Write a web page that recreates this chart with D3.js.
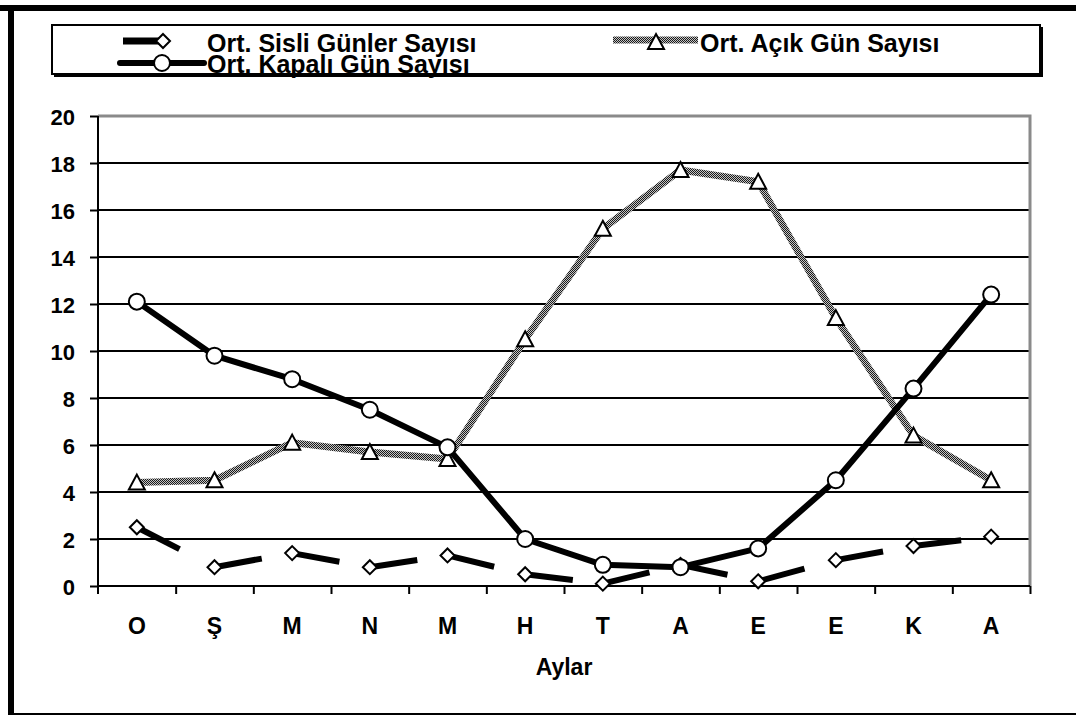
<!DOCTYPE html>
<html>
<head>
<meta charset="utf-8">
<script src="https://cdn.jsdelivr.net/npm/d3@7"></script>
<style>
  body { margin: 0; background: #fff; }
  svg text { font-family: "Liberation Sans", Arial, sans-serif; font-weight: bold; fill: #000; }
</style>
</head>
<body>
<svg id="chart" width="1076" height="715"></svg>
<script>
// data
var months = ["O", "Ş", "M", "N", "M", "H", "T", "A", "E", "E", "K", "A"];
var sisli = [2.5, 0.8, 1.4, 0.8, 1.3, 0.5, 0.1, 0.9, 0.2, 1.1, 1.7, 2.1];
var acik = [4.4, 4.5, 6.1, 5.7, 5.4, 10.5, 15.2, 17.7, 17.2, 11.4, 6.4, 4.5];
var kapali = [12.1, 9.8, 8.8, 7.5, 5.9, 2.0, 0.9, 0.8, 1.6, 4.5, 8.4, 12.4];
var yTicks = [0, 2, 4, 6, 8, 10, 12, 14, 16, 18, 20];
var legendNames = ["Ort. Sisli Günler Sayısı", "Ort. Açık Gün Sayısı", "Ort. Kapalı Gün Sayısı"];

var svg = d3.select("#chart");
var plotL = 98, plotR = 1030, plotT = 116, plotB = 586;

// dithered gray for the "açık" line
var defs = svg.append("defs");
var pat = defs.append("pattern").attr("id", "dither")
	.attr("width", 2).attr("height", 2).attr("patternUnits", "userSpaceOnUse");
pat.append("rect").attr("width", 2).attr("height", 2).attr("fill", "#c4c4c4");
pat.append("rect").attr("width", 1).attr("height", 1).attr("fill", "#1a1a1a");
pat.append("rect").attr("x", 1).attr("y", 1).attr("width", 1).attr("height", 1).attr("fill", "#1a1a1a");

// outer frame
svg.append("rect").attr("x", 0).attr("y", 5).attr("width", 1076).attr("height", 6).attr("fill", "#000");
svg.append("rect").attr("x", 8).attr("y", 5).attr("width", 6).attr("height", 710).attr("fill", "#000");
svg.append("rect").attr("x", 8).attr("y", 713).attr("width", 1068).attr("height", 2).attr("fill", "#000");

var idx = d3.range(months.length);
var x = d3.scaleBand().domain(idx).range([plotL, plotR]);
var xEdge = d3.scaleLinear().domain([0, months.length]).range([plotL, plotR]);
var y = d3.scaleLinear().domain([0, 20]).range([plotB, plotT]);
var cx = function(i) { return x(i) + x.bandwidth() / 2; };

// gridlines
svg.append("g").selectAll("line")
	.data(yTicks.filter(function(d) { return d > 0 && d < 20; }))
	.enter().append("line")
		.attr("x1", plotL).attr("x2", plotR)
		.attr("y1", function(d) { return y(d); }).attr("y2", function(d) { return y(d); })
		.attr("stroke", "#000").attr("stroke-width", 2);

// plot border top / right (gray)
svg.append("path")
	.attr("d", "M" + plotL + "," + y(20) + "H" + plotR + "V" + plotB)
	.attr("fill", "none").attr("stroke", "#8a8a8a").attr("stroke-width", 3);

// y axis
var yAxis = svg.append("g").attr("transform", "translate(" + plotL + ",0)")
	.call(d3.axisLeft(y).tickValues(yTicks).tickSize(8).tickPadding(15));
yAxis.select(".domain").attr("d", "M0," + y(20) + "V" + (plotB + 8)).attr("stroke-width", 2);
yAxis.selectAll(".tick line").attr("stroke-width", 2);
yAxis.selectAll("text").style("font-size", "22px").attr("dy", "0.37em");

// x axis (tick marks at the category edges)
var xAxis = svg.append("g").attr("transform", "translate(0," + plotB + ")")
	.call(d3.axisBottom(xEdge).tickValues(d3.range(1, months.length + 1)).tickSize(8).tickFormat(""));
xAxis.select(".domain").attr("d", "M" + plotL + ",0H" + plotR).attr("stroke-width", 2);
xAxis.selectAll(".tick line").attr("stroke-width", 2);

var xLabels = svg.append("g").attr("transform", "translate(0," + plotB + ")")
	.call(d3.axisBottom(x).tickSize(0).tickPadding(32).tickFormat(function(i) { return months[i]; }));
xLabels.select(".domain").remove();
xLabels.selectAll("text").style("font-size", "23px");

svg.append("text").attr("x", 564).attr("y", 675).attr("text-anchor", "middle")
	.style("font-size", "23px").text("Aylar");

// markers
function diamond(g, px, py) {
	g.append("path").attr("d", "M" + px + "," + (py - 7) + "l7,7l-7,7l-7,-7z")
		.attr("fill", "#fff").attr("stroke", "#000").attr("stroke-width", 2);
}
function triangle(g, px, py) {
	g.append("path").attr("d", "M" + px + "," + (py - 8) + "l8,15h-16z")
		.attr("fill", "#fff").attr("stroke", "#000").attr("stroke-width", 2);
}
function circle(g, px, py) {
	g.append("circle").attr("cx", px).attr("cy", py).attr("r", 8)
		.attr("fill", "#fff").attr("stroke", "#000").attr("stroke-width", 2);
}

// Sisli: long dash, restarting at each point
var gS = svg.append("g");
for (var i = 0; i < sisli.length - 1; i++) {
	gS.append("line")
		.attr("x1", cx(i)).attr("y1", y(sisli[i]))
		.attr("x2", cx(i + 1)).attr("y2", y(sisli[i + 1]))
		.attr("stroke", "#000").attr("stroke-width", 6)
		.attr("stroke-dasharray", "48,1000");
}
sisli.forEach(function(v, i) { diamond(gS, cx(i), y(v)); });

var line = d3.line().x(function(d, i) { return cx(i); }).y(function(d) { return y(d); });

// Açık
var gA = svg.append("g");
gA.append("path").datum(acik).attr("d", line)
	.attr("fill", "none").attr("stroke", "url(#dither)").attr("stroke-width", 7).attr("stroke-linejoin", "round");
acik.forEach(function(v, i) { triangle(gA, cx(i), y(v)); });

// Kapalı
var gK = svg.append("g");
gK.append("path").datum(kapali).attr("d", line)
	.attr("fill", "none").attr("stroke", "#000").attr("stroke-width", 6).attr("stroke-linejoin", "round");
kapali.forEach(function(v, i) { circle(gK, cx(i), y(v)); });

// legend
var lg = svg.append("g");
lg.append("rect").attr("x", 54).attr("y", 27).attr("width", 989).attr("height", 50).attr("fill", "#000");
lg.append("rect").attr("x", 52).attr("y", 25).attr("width", 988).attr("height", 49)
	.attr("fill", "#fff").attr("stroke", "#000").attr("stroke-width", 2);

lg.append("line").attr("x1", 123).attr("x2", 166).attr("y1", 41).attr("y2", 41)
	.attr("stroke", "#000").attr("stroke-width", 7);
diamond(lg, 163, 41);
lg.append("text").attr("x", 207).attr("y", 52).style("font-size", "25px").text(legendNames[0]);

lg.append("line").attr("x1", 613).attr("x2", 698).attr("y1", 40).attr("y2", 40)
	.attr("stroke", "url(#dither)").attr("stroke-width", 7);
triangle(lg, 656, 42);
lg.append("text").attr("x", 700).attr("y", 52).style("font-size", "25px").text(legendNames[1]);

lg.append("line").attr("x1", 120).attr("x2", 204).attr("y1", 63).attr("y2", 63)
	.attr("stroke", "#000").attr("stroke-width", 6).attr("stroke-linecap", "round");
circle(lg, 162, 63);
lg.append("text").attr("x", 207).attr("y", 73).style("font-size", "25px").text(legendNames[2]);
</script>
</body>
</html>
